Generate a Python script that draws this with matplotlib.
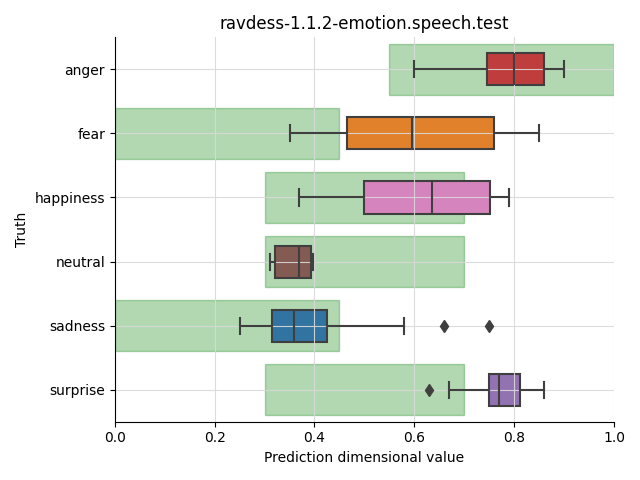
import colorsys
import matplotlib
matplotlib.use("Agg")
import matplotlib.pyplot as plt
import matplotlib.colors as mcolors

categories = ["anger", "fear", "happiness", "neutral", "sadness", "surprise"]
whislo = [0.60, 0.35, 0.37, 0.31, 0.25, 0.67]
q1 = [0.745, 0.466, 0.50, 0.32, 0.314, 0.749]
med = [0.80, 0.595, 0.635, 0.369, 0.359, 0.77]
q3 = [0.86, 0.759, 0.751, 0.393, 0.426, 0.812]
whishi = [0.90, 0.85, 0.79, 0.398, 0.579, 0.86]
fliers = [[], [], [], [], [0.66, 0.75], [0.63]]
# expected range for each emotion (green bands)
range_lo = [0.55, 0.0, 0.30, 0.30, 0.0, 0.30]
range_hi = [1.0, 0.45, 0.70, 0.70, 0.45, 0.70]
base_colors = ["tab:red", "tab:orange", "tab:pink", "tab:brown", "tab:blue", "tab:purple"]


def desat(c, prop=0.75):
    r, g, b = mcolors.to_rgb(c)
    h, l, s = colorsys.rgb_to_hls(r, g, b)
    return colorsys.hls_to_rgb(h, l, s * prop)


fig, ax = plt.subplots(figsize=(6.4, 4.8), dpi=100)
ax.set_axisbelow(True)
ax.grid(True, color="#d9d9d9", linewidth=0.8, alpha=0.9)

for i in range(len(categories)):
    ax.add_patch(plt.Rectangle((range_lo[i], i - 0.4), range_hi[i] - range_lo[i], 0.8,
                               facecolor="green", edgecolor="green", alpha=0.3, linewidth=1.0, zorder=0.2))

stats = []
for i, c in enumerate(categories):
    stats.append(dict(label=c, whislo=whislo[i], q1=q1[i], med=med[i], q3=q3[i],
                      whishi=whishi[i], fliers=fliers[i]))

gray = "#3f3f3f"
bp = ax.bxp(stats, positions=range(len(categories)), widths=0.5, vert=False,
            patch_artist=True,
            boxprops=dict(edgecolor=gray, linewidth=1.5),
            medianprops=dict(color=gray, linewidth=1.5),
            whiskerprops=dict(color=gray, linewidth=1.5),
            capprops=dict(color=gray, linewidth=1.5),
            flierprops=dict(marker="d", markerfacecolor=gray, markeredgecolor=gray, markersize=6))
for patch, c in zip(bp["boxes"], base_colors):
    patch.set_facecolor(desat(c))
    patch.set_zorder(0.3)

ax.set_yticks(range(len(categories)))
ax.set_yticklabels(categories)
ax.set_ylim(len(categories) - 0.5, -0.5)
ax.set_xlim(0, 1)
ax.spines["top"].set_visible(False)
ax.spines["right"].set_visible(False)
ax.set_title("ravdess-1.1.2-emotion.speech.test")
ax.set_xlabel("Prediction dimensional value")
ax.set_ylabel("Truth")
fig.tight_layout()
fig.savefig("out.png")
